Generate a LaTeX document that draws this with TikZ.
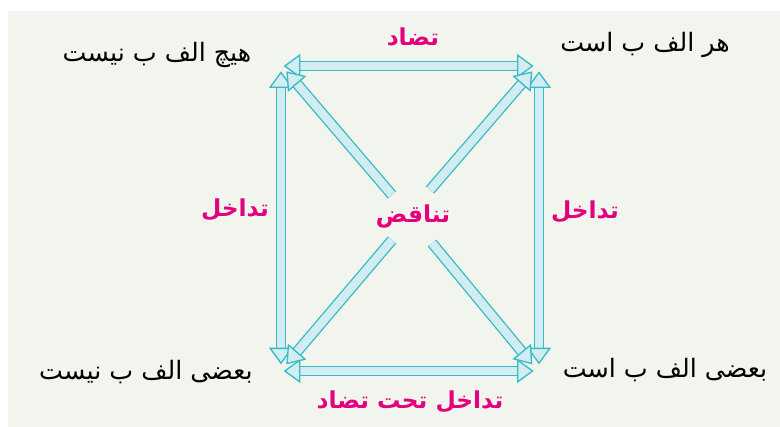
\documentclass[tikz,border=0pt]{standalone}
\usepackage{fontspec}
\newfontfamily\arabicfont[Script=Arabic]{DejaVu Sans}
\TeXXeTstate=1
\usetikzlibrary{arrows.meta}
\definecolor{PanelGreen}{HTML}{F1F5EE}
\definecolor{ArrowTeal}{HTML}{36BCC6}
\definecolor{ArrowFill}{HTML}{D3ECF1}
\definecolor{Magenta}{HTML}{E4007D}
\tikzset{
  stmt/.style={font=\arabicfont\fontsize{19}{22}\selectfont,text=black,inner sep=0pt},
  rel/.style={font=\arabicfont\bfseries\fontsize{17.5}{20}\selectfont,text=Magenta,inner sep=0pt},
  link/.style={draw=ArrowTeal,line width=1pt,double=ArrowFill,double distance=6.2pt,
    >={Triangle[length=12.5pt,width=18pt,fill=ArrowFill,line width=1pt]}},
}

\begin{document}
\begin{tikzpicture}[x=.75pt,y=-.75pt]
  \useasboundingbox (0,0) rectangle (780,427);
  \fill[PanelGreen] (8,11) rectangle (780,427);

  % corners of the square
  \coordinate (tl) at (281,66);
  \coordinate (tr) at (539,66);
  \coordinate (bl) at (281,371);
  \coordinate (br) at (539,371);
  % free ends of the diagonals
  \coordinate (cul) at (392,195);
  \coordinate (cur) at (430,190);
  \coordinate (cll) at (392,240);
  \coordinate (clr) at (432,243);

  \node[stmt] (none) at (157,55) {\beginR هیچ الف ب نیست\endR};
  \node[stmt] (all) at (645,45) {\beginR هر الف ب است\endR};
  \node[stmt] (somenot) at (146,372) {\beginR بعضی الف ب نیست\endR};
  \node[stmt] (some) at (665,370) {\beginR بعضی الف ب است\endR};

  \node[rel] (contrary) at (413,37) {\beginR تضاد\endR};
  \node[rel] (subl) at (235,210) {\beginR تداخل\endR};
  \node[rel] (subr) at (585,212) {\beginR تداخل\endR};
  \node[rel] (contra) at (413,216) {\beginR تناقض\endR};
  \node[rel] (subcon) at (410,402) {\beginR تداخل تحت تضاد\endR};

  \draw[link,<->] ([xshift=2pt]tl) -- ([xshift=-4pt]tr);
  \draw[link,<->] ([xshift=2pt]bl) -- ([xshift=-4pt]br);
  \draw[link,<->] ([yshift=-4pt]tl) -- ([yshift=5pt]bl);
  \draw[link,<->] ([yshift=-4pt]tr) -- ([yshift=5pt]br);
  \draw[link,->] (cul) -- ([shift={(4pt,-4pt)}]tl);
  \draw[link,->] (cur) -- ([shift={(-5pt,-4pt)}]tr);
  \draw[link,->] (cll) -- ([shift={(4pt,5pt)}]bl);
  \draw[link,->] (clr) -- ([shift={(-5pt,5pt)}]br);
\end{tikzpicture}
\end{document}
